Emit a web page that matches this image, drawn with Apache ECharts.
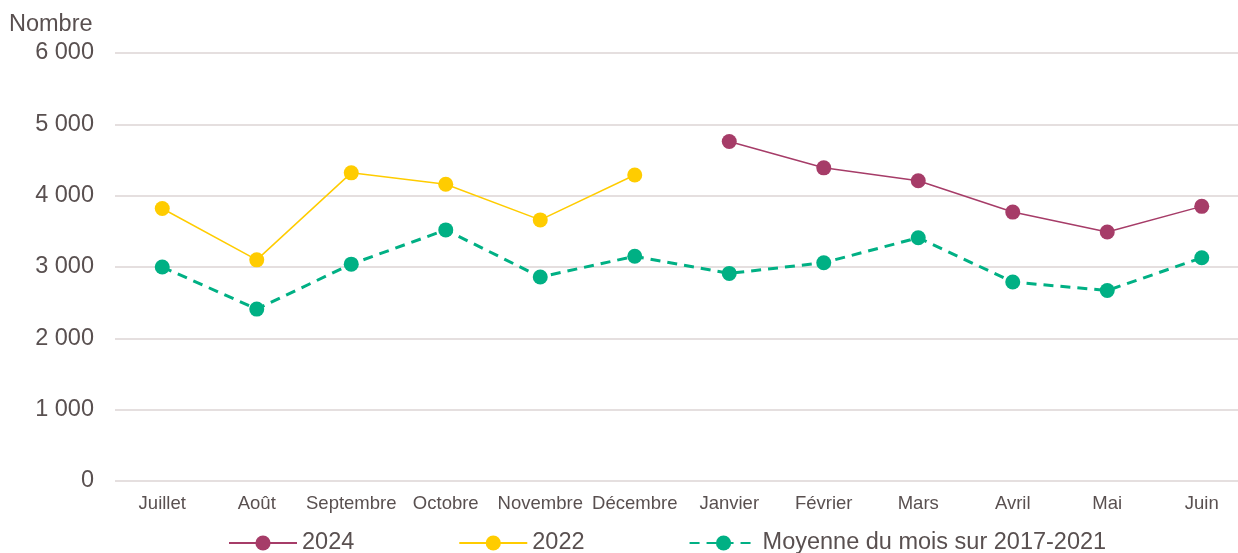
<!DOCTYPE html>
<html>
<head>
<meta charset="utf-8">
<script src="https://cdn.jsdelivr.net/npm/echarts@6/dist/echarts.min.js"></script>
<style>
  html, body { margin: 0; padding: 0; background: #fff; }
  #chart { width: 1238px; height: 553px; }
</style>
</head>
<body>
<div id="chart"></div>
<script>
const months = ['Juillet', 'Août', 'Septembre', 'Octobre', 'Novembre', 'Décembre',
  'Janvier', 'Février', 'Mars', 'Avril', 'Mai', 'Juin']
const values2024 = [null, null, null, null, null, null, 4760, 4390, 4210, 3770, 3490, 3850]
const values2022 = [3820, 3100, 4320, 4160, 3660, 4290, null, null, null, null, null, null]
const valuesMoyenne = [3000, 2410, 3040, 3520, 2860, 3150, 2910, 3060, 3410, 2790, 2670, 3130]
const seriesNames = ['2024', '2022', 'Moyenne du mois sur 2017-2021']

const textColor = '#595050'
const font = 'Liberation Sans, Arial, sans-serif'

// séparateur de milliers à la française
const fmt = (v) => String(v).replace(/\B(?=(\d{3})+(?!\d))/g, ' ')

const chart = echarts.init(document.getElementById('chart'))
chart.setOption({
  animation: false,
  title: {
    text: 'Nombre',
    left: 9,
    top: 13,
    padding: 0,
    textStyle: { fontFamily: font, fontSize: 23.5, fontWeight: 'normal', color: textColor }
  },
  grid: {
    left: 115,
    top: 53,
    right: -11,
    bottom: 72,
    outerBoundsMode: 'none'
  },
  legend: {
    data: seriesNames,
    left: 228,
    top: 531,
    padding: 0,
    itemWidth: 68,
    itemHeight: 19,
    itemGap: 104,
    textStyle: { fontFamily: font, fontSize: 23.5, color: textColor }
  },
  xAxis: {
    type: 'category',
    data: months,
    boundaryGap: true,
    axisLine: { show: false },
    axisTick: { show: false },
    axisLabel: { fontFamily: font, fontSize: 18.5, color: textColor, margin: 13, interval: 0 }
  },
  yAxis: {
    type: 'value',
    min: 0,
    max: 6000,
    interval: 1000,
    axisLine: { show: false },
    axisTick: { show: false },
    axisLabel: { fontFamily: font, fontSize: 23.5, color: textColor, margin: 21, formatter: fmt },
    splitLine: { lineStyle: { color: '#E5DFDF', width: 2 } }
  },
  series: [
    {
      name: seriesNames[0],
      type: 'line',
      data: values2024,
      symbol: 'circle',
      symbolSize: 15,
      itemStyle: { color: '#A63C68' },
      lineStyle: { width: 1.5, color: '#A63C68' }
    },
    {
      name: seriesNames[1],
      type: 'line',
      data: values2022,
      symbol: 'circle',
      symbolSize: 15,
      itemStyle: { color: '#FFCC00' },
      lineStyle: { width: 1.5, color: '#FFCC00' }
    },
    {
      name: seriesNames[2],
      type: 'line',
      data: valuesMoyenne,
      symbol: 'circle',
      symbolSize: 15,
      itemStyle: { color: '#00B084' },
      lineStyle: { width: 3, color: '#00B084', type: [10, 7] }
    }
  ]
})
</script>
</body>
</html>
